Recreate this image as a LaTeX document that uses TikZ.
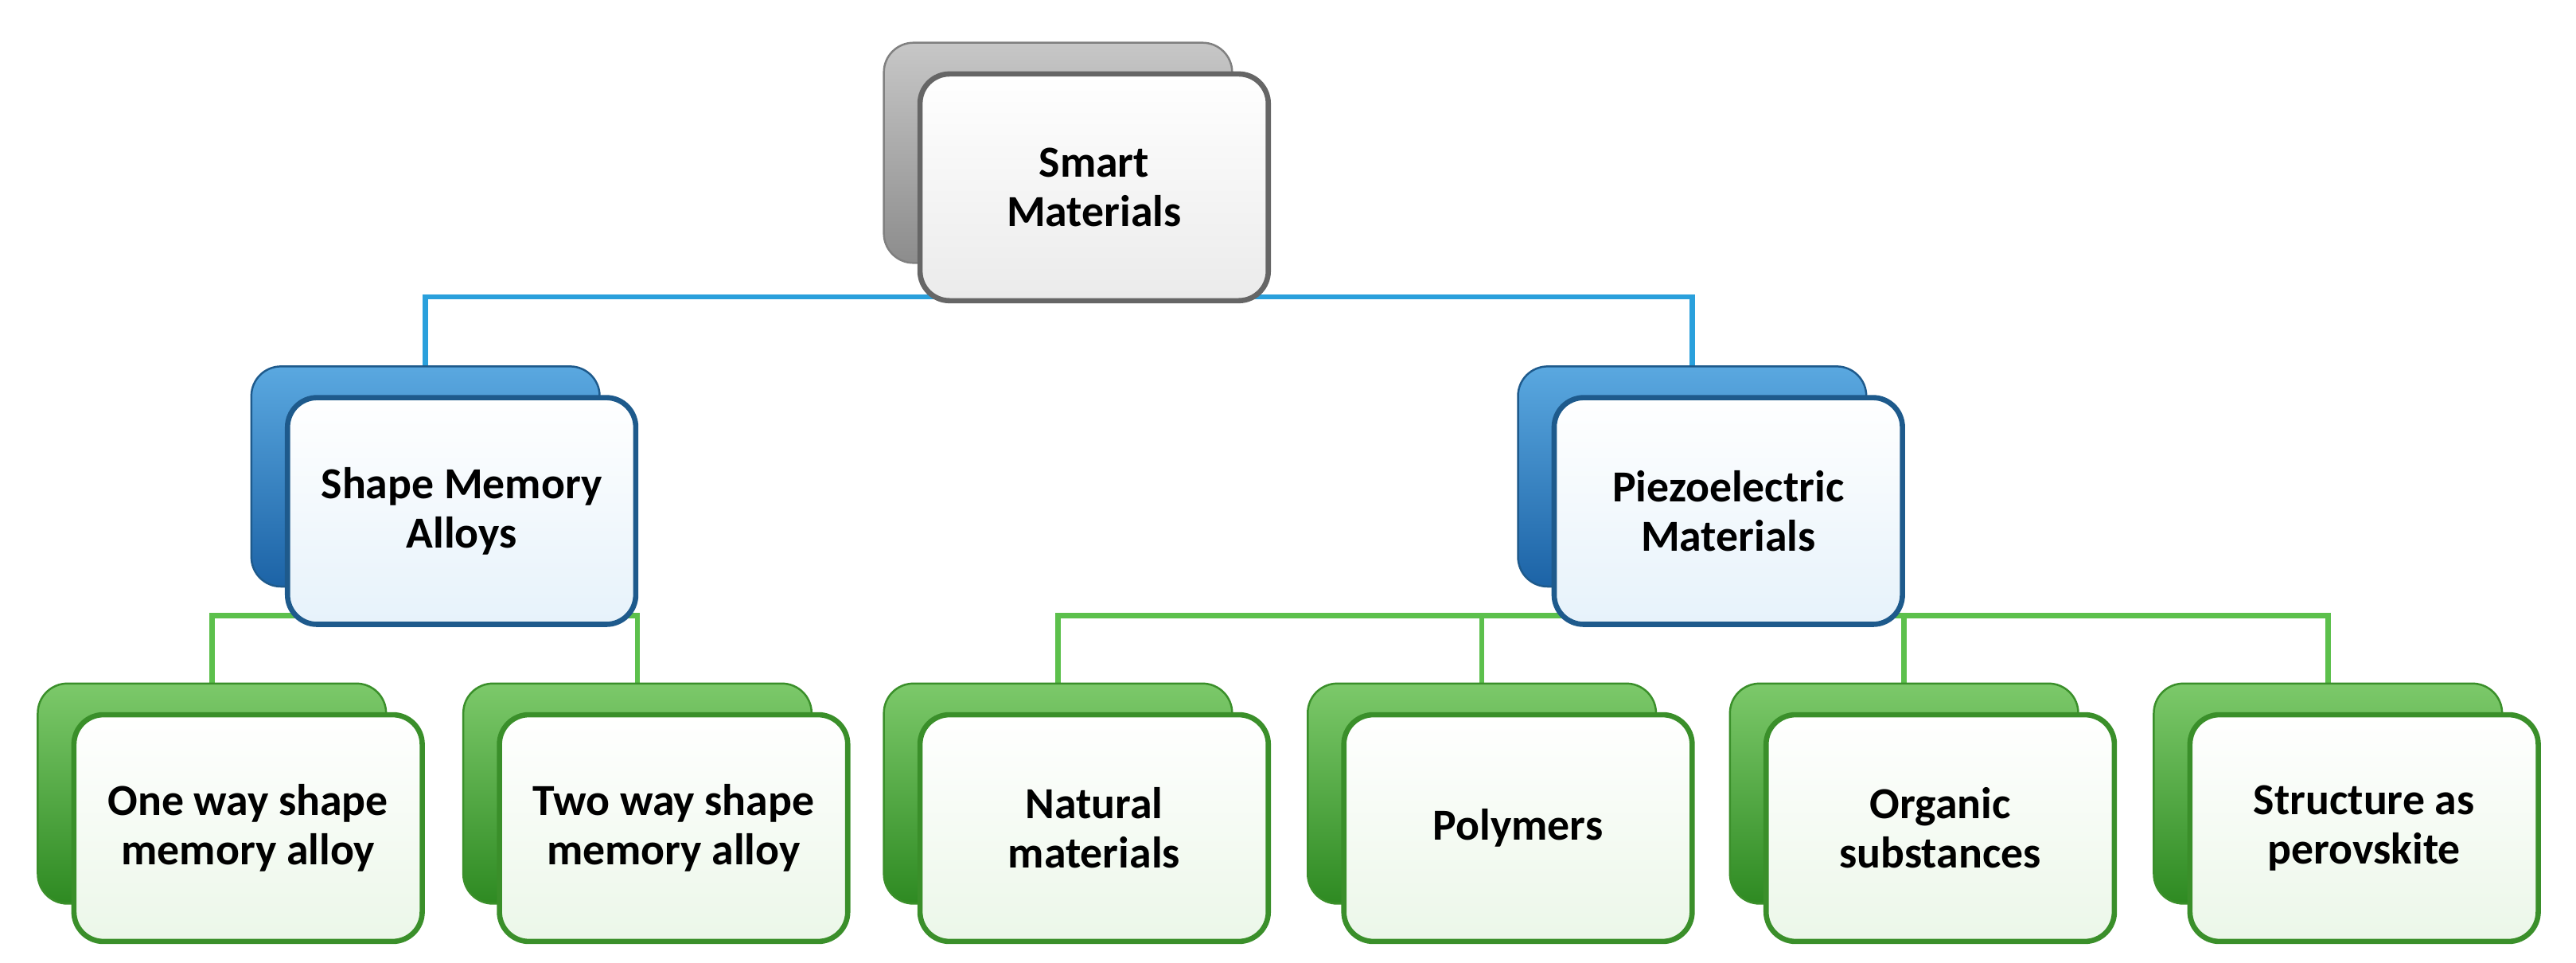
\documentclass[tikz,border=0pt]{standalone}
\usepackage{fontspec}
\setmainfont{Carlito}
\usetikzlibrary{backgrounds}
\definecolor{bB1}{HTML}{5AA8E0}
\definecolor{bB2}{HTML}{1C63A6}
\definecolor{bBd}{HTML}{1E5A8C}
\definecolor{gB1}{HTML}{7CC96A}
\definecolor{gB2}{HTML}{2E8A22}
\definecolor{gBd}{HTML}{3A8F2A}
\definecolor{lnB}{HTML}{2AA0DC}
\definecolor{lnG}{HTML}{5CC04C}
\begin{document}
\begin{tikzpicture}[x=0.5pt,y=-0.5pt,
  fr/.style={rounded corners=9pt,minimum width=106pt,minimum height=69pt,line width=1.6pt,align=center,font=\fontsize{13.5}{15}\selectfont\bfseries,inner sep=0pt},
  bk/.style={rounded corners=9pt,minimum width=106pt,minimum height=67pt,line width=0.6pt},
  gray/.style={draw=black!60,top color=white,bottom color=black!8},
  grayb/.style={draw=black!50,top color=black!22,bottom color=black!45},
  blue/.style={draw=bBd,top color=white,bottom color=bB1!15},
  blueb/.style={draw=bBd,top color=bB1,bottom color=bB2},
  green/.style={draw=gBd,top color=white,bottom color=gB1!15},
  greenb/.style={draw=gBd,top color=gB1,bottom color=gB2},
  ln/.style={line width=1.6pt},
  bl/.style={ln,draw=lnB},
  gl/.style={ln,draw=lnG}]
\useasboundingbox (0,0) rectangle (1568,586);
\newcommand{\bpair}[6]{%
  \node[bk,#5] (#1b) at (#2-22,#3-21) {};
  \node[fr,#4] (#1) at (#2,#3) {#6};}
\bpair{s}{666}{114}{gray}{grayb}{Smart\\Materials}
\bpair{sma}{281}{311}{blue}{blueb}{Shape Memory\\Alloys}
\bpair{pm}{1052}{311}{blue}{blueb}{Piezoelectric\\Materials}
\bpair{a}{151}{504}{green}{greenb}{One way shape\\memory alloy}
\bpair{b}{410}{504}{green}{greenb}{Two way shape\\memory alloy}
\bpair{c}{666}{504}{green}{greenb}{Natural\\materials}
\bpair{d}{924}{504}{green}{greenb}{Polymers}
\bpair{e}{1181}{504}{green}{greenb}{Organic\\substances}
\bpair{f}{1439}{504}{green}{greenb}{Structure as\\perovskite}
\begin{scope}[on background layer]
\draw[bl] (sb.south -| s.south) -- ++(0,20) coordinate (j1) -| (smab.north);
\draw[bl] (j1) -| (pmb.north);
\draw[gl] (smab.south -| sma.south) -- ++(0,17) coordinate (j2) -| (ab.north);
\draw[gl] (j2) -| (bb.north);
\draw[gl] (pmb.south -| pm.south) -- ++(0,17) coordinate (j3) -| (cb.north);
\draw[gl] (j3) -| (db.north);
\draw[gl] (j3) -| (eb.north);
\draw[gl] (j3) -| (fb.north);
\end{scope}
\end{tikzpicture}
\end{document}
